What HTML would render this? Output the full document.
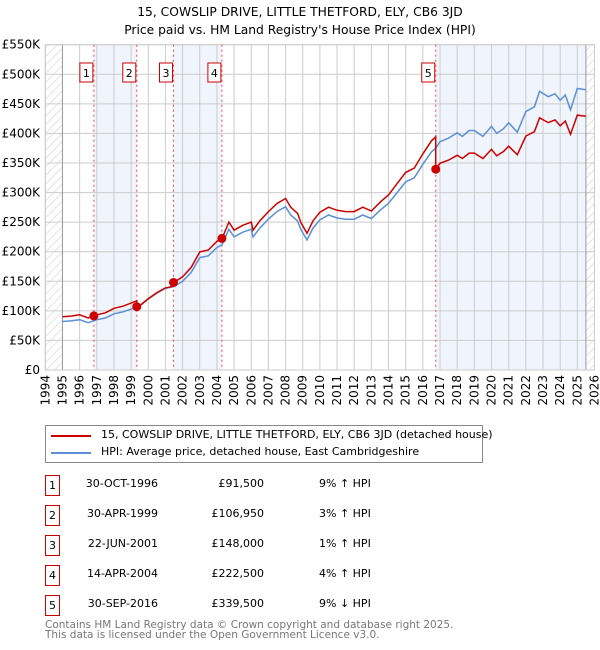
<!DOCTYPE html>
<html><head><meta charset="utf-8"><style>
body{margin:0;background:#fff;font-family:"DejaVu Sans","Liberation Sans",sans-serif;}
#wrap{position:relative;width:600px;height:650px;overflow:hidden}
.t{position:absolute;font-size:11px;color:#000;white-space:nowrap}
.nb{position:absolute;width:13px;height:19px;border:1px solid #c00;font-size:11px;text-align:center;line-height:19px}
</style></head><body><div id="wrap">
<svg id="svg" width="600" height="420" style="position:absolute;left:0;top:0">
<defs><pattern id="hatch" width="6" height="6" patternUnits="userSpaceOnUse" patternTransform="rotate(45)"><line x1="0" y1="0" x2="0" y2="6" stroke="#ccc" stroke-width="1"/></pattern></defs>
<text x="300" y="16" text-anchor="middle" font-size="12.3" font-family="DejaVu Sans, Liberation Sans, sans-serif">15, COWSLIP DRIVE, LITTLE THETFORD, ELY, CB6 3JD</text>
<text x="300" y="34" text-anchor="middle" font-size="12.3" font-family="DejaVu Sans, Liberation Sans, sans-serif">Price paid vs. HM Land Registry's House Price Index (HPI)</text>
<g id="g"></g>
</svg>
<div style="position:absolute;left:45px;top:425px;width:436px;height:36px;border:1px solid #888">
<div style="position:absolute;left:5px;top:9px;width:40px;height:2px;background:#c00"></div>
<div class="t" style="left:55px;top:2px">15, COWSLIP DRIVE, LITTLE THETFORD, ELY, CB6 3JD (detached house)</div>
<div style="position:absolute;left:5px;top:26px;width:40px;height:2px;background:#5b8fd6"></div>
<div class="t" style="left:55px;top:19px">HPI: Average price, detached house, East Cambridgeshire</div>
</div>
<div id="tbl"></div>
<div class="t" style="left:45px;top:620px;color:#777;line-height:10px;font-size:10.5px">Contains HM Land Registry data © Crown copyright and database right 2025.<br>This data is licensed under the Open Government Licence v3.0.</div>
</div>
<script>
const hpiYears=[1995,1995.5,1996,1996.5,1997,1997.5,1998,1998.5,1999,1999.5,2000,2000.5,2001,2001.5,2002,2002.5,2003,2003.5,2004,2004.3,2004.7,2005,2005.5,2006,2006.1,2006.5,2007,2007.5,2008,2008.3,2008.7,2008.9,2009.25,2009.6,2010,2010.5,2011,2011.5,2012,2012.5,2013,2013.5,2014,2014.5,2015,2015.5,2016,2016.5,2016.75,2017,2017.5,2018,2018.3,2018.7,2019,2019.5,2020,2020.3,2020.7,2021,2021.5,2022,2022.5,2022.8,2023.3,2023.7,2024,2024.3,2024.6,2025,2025.5];
const hpiValues=[82,83,85,80,85,88,95,98,103,108,120,130,138,141,150,165,190,193,207,212,238,225,233,238,225,240,255,268,276,262,252,237,220,240,254,262,257,255,255,262,256,270,282,300,318,325,348,369,375,386,392,401,395,405,405,395,412,400,408,418,402,437,445,471,462,467,456,465,440,476,474];
const saleYears=[1996.83,1999.33,2001.47,2004.29,2016.75];
const saleValues=[91.5,106.95,148,222.5,339.5];
const saleLabels=["1","2","3","4","5"];
const saleDates=["30-OCT-1996","30-APR-1999","22-JUN-2001","14-APR-2004","30-SEP-2016"];
const salePrices=["£91,500","£106,950","£148,000","£222,500","£339,500"];
const saleDiffs=["9% ↑ HPI","3% ↑ HPI","1% ↑ HPI","4% ↑ HPI","9% ↓ HPI"];
const yTicks=[0,50,100,150,200,250,300,350,400,450,500,550];
const xTicks=[];for(let y=1994;y<=2026;y++)xTicks.push(y);
const X0=45.3,X1=594.5,Y0=370,Y1=44.7;
const xs=v=>X0+(v-1994)/32*(X1-X0);
const ys=v=>Y0-v/550*(Y0-Y1);
const NS="http://www.w3.org/2000/svg";
const g=document.getElementById('g');
function mk(t,a,p){const e=document.createElementNS(NS,t);for(const k in a)e.setAttribute(k,a[k]);(p||g).appendChild(e);return e;}
function hpiAt(y){for(let i=0;i<hpiYears.length-1;i++){if(y<=hpiYears[i+1]){const f=(y-hpiYears[i])/(hpiYears[i+1]-hpiYears[i]);return hpiValues[i]+f*(hpiValues[i+1]-hpiValues[i]);}}return hpiValues[hpiValues.length-1];}
const bandEnds=[[0,1],[2,3],[4,null]];
bandEnds.forEach(b=>{const a=xs(saleYears[b[0]]);const e=b[1]===null?xs(2025.5):xs(saleYears[b[1]]);
const r=mk('rect',{x:a,y:Y1,width:e-a,height:Y0-Y1,fill:'#f0f4fc'});
});
yTicks.forEach(v=>{const l=mk('line',{x1:X0,x2:X1,y1:ys(v),y2:ys(v),stroke:'#ccc'});
const t=mk('text',{x:40,y:ys(v)+4,'text-anchor':'end','font-size':12,'font-family':'DejaVu Sans, Liberation Sans, sans-serif'});t.textContent=v===0?'£0':'£'+v+'K';});
xTicks.forEach(v=>{const l=mk('line',{x1:xs(v),x2:xs(v),y1:Y1,y2:Y0,stroke:'#ccc'});
const t=mk('text',{x:0,y:0,'text-anchor':'end','font-size':12,'font-family':'DejaVu Sans, Liberation Sans, sans-serif',transform:`translate(${xs(v)+4},375) rotate(-90)`});t.textContent=v;});
let h=mk('rect',{x:X0,y:Y1,width:xs(1995)-X0,height:Y0-Y1,fill:'url(#hatch)'});
h=mk('rect',{x:xs(2025.5),y:Y1,width:X1-xs(2025.5),height:Y0-Y1,fill:'url(#hatch)'});
mk('line',{x1:xs(1995),x2:xs(1995),y1:Y1,y2:Y0,stroke:'#999'});
mk('line',{x1:xs(2025.5),x2:xs(2025.5),y1:Y1,y2:Y0,stroke:'#999'});
mk('rect',{x:X0,y:Y1,width:X1-X0,height:Y0-Y1,fill:'none',stroke:'#ccc'});
saleYears.forEach((s,i)=>{const l=mk('line',{x1:xs(s),x2:xs(s),y1:Y1,y2:Y0,stroke:'#f44','stroke-dasharray':'2,3'});
const r=mk('rect',{x:xs(s)-14,y:63,width:13,height:19,fill:'#fff',stroke:'#c00'});
const t=mk('text',{x:xs(s)-7.5,y:77,'text-anchor':'middle','font-size':11,'font-family':'DejaVu Sans, sans-serif'});t.textContent=saleLabels[i];});
let d=hpiYears.map((y,i)=>(i?'L':'M')+xs(y).toFixed(1)+','+ys(hpiValues[i]).toFixed(1)).join('');
let p=mk('path',{d:d,fill:'none',stroke:'#5b8fd6','stroke-width':1.5});
const factors=saleYears.map((s,i)=>saleValues[i]/hpiAt(s));
function fac(y){let k=0;for(let i=0;i<saleYears.length;i++)if(y>=saleYears[i])k=i;return factors[k];}
let pts=[];const allY=hpiYears.concat(saleYears).sort((a,b)=>a-b);
allY.forEach(y=>{if(saleYears.includes(y)){const i=saleYears.indexOf(y);const prev=i>0?factors[i-1]:factors[0];pts.push([y,hpiAt(y)*prev]);pts.push([y,saleValues[i]]);}else pts.push([y,hpiAt(y)*fac(y)]);});
d=pts.map((q,i)=>(i?'L':'M')+xs(q[0]).toFixed(1)+','+ys(q[1]).toFixed(1)).join('');
p=mk('path',{d:d,fill:'none',stroke:'#c00','stroke-width':1.5});
saleYears.forEach((s,i)=>{const c=mk('circle',{cx:xs(s),cy:ys(saleValues[i]),r:4.5,fill:'#c00'});});
const tbl=document.getElementById('tbl');
saleLabels.forEach((l,i)=>{const top=475+i*30;
const row=document.createElement('div');
row.innerHTML=`<div class="nb" style="left:45px;top:${top}px">${l}</div><div class="t" style="left:80px;top:${top+2}px;width:78px;text-align:right">${saleDates[i]}</div><div class="t" style="left:180px;top:${top+2}px;width:84px;text-align:right">${salePrices[i]}</div><div class="t" style="left:319px;top:${top+2}px">${saleDiffs[i]}</div>`;
tbl.appendChild(row);});
</script>
</body></html>
